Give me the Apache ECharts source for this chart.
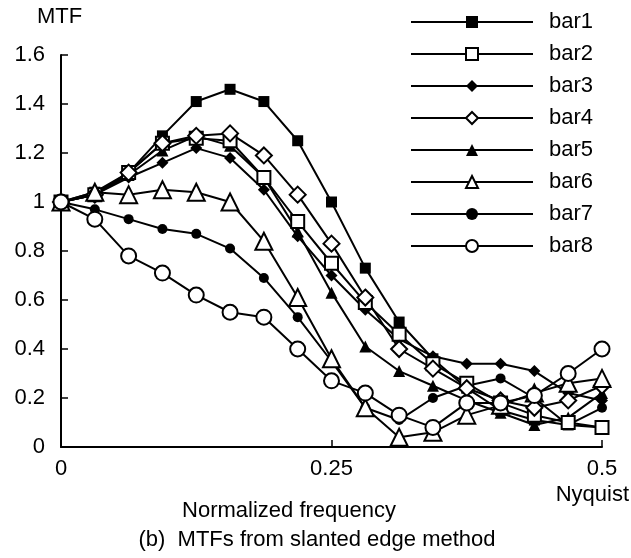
<!DOCTYPE html>
<html>
<head>
<meta charset="utf-8">
<script src="https://cdn.jsdelivr.net/npm/echarts@6/dist/echarts.min.js"></script>
<style>
  html, body { margin: 0; padding: 0; background: #fff; }
  #chart { width: 631px; height: 558px; }
</style>
</head>
<body>
<div id="chart"></div>
<script>
// Normalized spatial frequency samples (cycles/pixel), 0 .. Nyquist
const freq = [0, 0.03125, 0.0625, 0.09375, 0.125, 0.15625, 0.1875, 0.21875, 0.25,
              0.28125, 0.3125, 0.34375, 0.375, 0.40625, 0.4375, 0.46875, 0.5];

// MTF values per bar target
const bar1 = [1.0, 1.04, 1.12, 1.27, 1.41, 1.46, 1.41, 1.25, 1.0, 0.73, 0.51, 0.36, 0.24, 0.15, 0.11, 0.09, 0.08];
const bar2 = [1.0, 1.03, 1.12, 1.24, 1.26, 1.25, 1.10, 0.92, 0.75, 0.59, 0.46, 0.34, 0.26, 0.18, 0.13, 0.10, 0.08];
const bar3 = [1.0, 1.03, 1.10, 1.16, 1.22, 1.18, 1.05, 0.86, 0.70, 0.56, 0.44, 0.37, 0.34, 0.34, 0.31, 0.22, 0.19];
const bar4 = [1.0, 1.03, 1.12, 1.24, 1.27, 1.28, 1.19, 1.03, 0.83, 0.61, 0.40, 0.32, 0.24, 0.19, 0.16, 0.19, 0.25];
const bar5 = [1.0, 1.03, 1.11, 1.21, 1.27, 1.23, 1.10, 0.88, 0.63, 0.41, 0.31, 0.25, 0.19, 0.14, 0.09, 0.12, 0.22];
const bar6 = [1.0, 1.04, 1.03, 1.05, 1.04, 1.00, 0.84, 0.61, 0.36, 0.16, 0.04, 0.06, 0.13, 0.17, 0.22, 0.26, 0.28];
const bar7 = [1.0, 0.97, 0.93, 0.89, 0.87, 0.81, 0.69, 0.53, 0.35, 0.16, 0.11, 0.20, 0.25, 0.28, 0.20, 0.09, 0.16];
const bar8 = [1.0, 0.93, 0.78, 0.71, 0.62, 0.55, 0.53, 0.40, 0.27, 0.22, 0.13, 0.08, 0.18, 0.18, 0.21, 0.30, 0.40];

const seriesNames = ['bar1', 'bar2', 'bar3', 'bar4', 'bar5', 'bar6', 'bar7', 'bar8'];
const seriesValues = [bar1, bar2, bar3, bar4, bar5, bar6, bar7, bar8];

// x tick labels
const xTickLabels = { 0: '0', 0.25: '0.25', 0.5: '0.5' };

const FONT = '"Liberation Sans", Arial, sans-serif';
const FS = 22;

// marker look per series: [symbol, size, filled]
const markers = [
  ['rect', 11, true],
  ['rect', 13, false],
  ['diamond', 12, true],
  ['diamond', 16, false],
  ['triangle', 12, true],
  ['triangle', 17, false],
  ['circle', 10, true],
  ['circle', 15, false]
];

const series = seriesNames.map((name, i) => {
  const [sym, size, filled] = markers[i];
  return {
    name: name,
    type: 'line',
    data: freq.map((f, k) => [f, seriesValues[i][k]]),
    symbol: sym,
    symbolSize: size,
    showAllSymbol: true,
    lineStyle: { color: '#000', width: 2 },
    itemStyle: { color: filled ? '#000' : '#fff', borderColor: '#000', borderWidth: filled ? 0 : 2 },
    emphasis: { disabled: true },
    animation: false,
    z: filled ? 2 : 3
  };
});

const chart = echarts.init(document.getElementById('chart'), null, { renderer: 'canvas' });
chart.setOption({
  backgroundColor: '#fff',
  animation: false,
  grid: { left: 61, right: 29, top: 55, bottom: 111, containLabel: false, outerBoundsMode: 'none' },
  legend: {
    orient: 'vertical',
    left: 405,
    top: 6,
    itemWidth: 122,
    itemHeight: 15,
    itemGap: 10,
    textStyle: { fontFamily: FONT, fontSize: FS, lineHeight: 22, color: '#000', padding: [0, 0, 0, 11] },
    data: seriesNames,
    selectedMode: false
  },
  xAxis: {
    type: 'value',
    min: 0,
    max: 0.5,
    interval: 0.25,
    axisLine: { lineStyle: { color: '#000', width: 2 } },
    axisTick: { inside: true, length: 7, lineStyle: { color: '#000', width: 1.5 } },
    splitLine: { show: false },
    axisLabel: {
      margin: 11,
      fontFamily: FONT,
      fontSize: FS,
      color: '#000',
      formatter: v => xTickLabels[v]
    }
  },
  yAxis: {
    type: 'value',
    min: 0,
    max: 1.6,
    interval: 0.2,
    axisLine: { show: true, lineStyle: { color: '#000', width: 2 } },
    axisTick: { show: true, inside: true, length: 7, lineStyle: { color: '#000', width: 1.5 } },
    splitLine: { show: false },
    axisLabel: {
      margin: 16,
      fontFamily: FONT,
      fontSize: FS,
      color: '#000',
      formatter: v => String(Math.round(v * 10) / 10)
    }
  },
  graphic: [
    { type: 'text', left: 37, top: 6, style: { text: 'MTF', font: FS + 'px ' + FONT, fill: '#000' } },
    { type: 'text', x: 629, y: 495, style: { text: 'Nyquist', font: FS + 'px ' + FONT, fill: '#000', align: 'right', verticalAlign: 'middle' } },
    { type: 'text', x: 289, y: 511, style: { text: 'Normalized frequency', font: FS + 'px ' + FONT, fill: '#000', align: 'center', verticalAlign: 'middle' } },
    { type: 'text', x: 317, y: 540, style: { text: '(b)  MTFs from slanted edge method', font: FS + 'px ' + FONT, fill: '#000', align: 'center', verticalAlign: 'middle' } }
  ],
  series: series
});
</script>
</body>
</html>
